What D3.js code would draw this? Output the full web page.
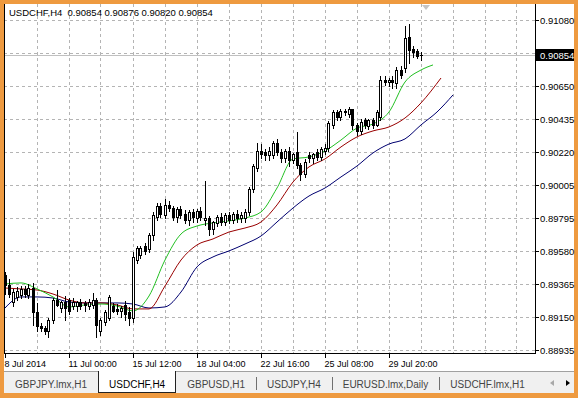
<!DOCTYPE html>
<html>
<head>
<meta charset="utf-8">
<script src="https://cdn.jsdelivr.net/npm/d3@7"></script>
<style>
body { margin: 0; background: #fff; }
svg { display: block; }
text { font-family: "Liberation Sans", Arial, sans-serif; }
</style>
</head>
<body>
<svg id="chart" width="578" height="398"></svg>
<script>
"use strict";

var symbol = "USDCHF,H4";
var lastPrice = 0.90854;

// H4 bars, oldest first
var opens = [0.89420,0.89360,0.89250,0.89280,0.89290,0.89330,0.89290,0.89340,0.89180,0.89090,
  0.89075,0.89060,0.89130,0.89260,0.89210,0.89250,0.89260,0.89220,0.89220,0.89250,
  0.89240,0.89220,0.89230,0.89260,0.89060,0.89120,0.89140,0.89220,0.89200,0.89190,
  0.89230,0.89180,0.89140,0.89520,0.89550,0.89610,0.89590,0.89680,0.89800,0.89870,
  0.89810,0.89880,0.89860,0.89800,0.89850,0.89820,0.89780,0.89830,0.89790,0.89840,
  0.89780,0.89790,0.89720,0.89760,0.89800,0.89770,0.89810,0.89780,0.89820,0.89790,
  0.89790,0.89830,0.89980,0.90120,0.90230,0.90220,0.90200,0.90200,0.90280,0.90220,
  0.90180,0.90230,0.90170,0.90220,0.90140,0.90080,0.90200,0.90180,0.90220,0.90190,
  0.90230,0.90250,0.90400,0.90480,0.90450,0.90490,0.90470,0.90500,0.90400,0.90360,
  0.90430,0.90390,0.90430,0.90400,0.90450,0.90690,0.90680,0.90690,0.90670,0.90755,
  0.90768,0.90970,0.90890,0.90880,0.90854];
var highs = [0.89450,0.89400,0.89340,0.89350,0.89360,0.89360,0.89370,0.89380,0.89250,0.89120,
  0.89100,0.89150,0.89280,0.89330,0.89260,0.89290,0.89280,0.89280,0.89260,0.89270,
  0.89260,0.89270,0.89310,0.89280,0.89150,0.89200,0.89300,0.89250,0.89240,0.89230,
  0.89260,0.89220,0.89580,0.89620,0.89620,0.89640,0.89700,0.89840,0.89900,0.89900,
  0.89920,0.89910,0.89880,0.89870,0.89880,0.89850,0.89850,0.89860,0.89860,0.89870,
  0.90040,0.89810,0.89780,0.89820,0.89830,0.89830,0.89840,0.89840,0.89850,0.89840,
  0.89860,0.90000,0.90150,0.90290,0.90280,0.90250,0.90260,0.90300,0.90310,0.90250,
  0.90250,0.90260,0.90220,0.90360,0.90160,0.90180,0.90230,0.90220,0.90250,0.90260,
  0.90280,0.90430,0.90500,0.90500,0.90510,0.90510,0.90520,0.90510,0.90420,0.90440,
  0.90450,0.90440,0.90450,0.90500,0.90720,0.90720,0.90710,0.90720,0.90780,0.90790,
  0.91047,0.91060,0.90920,0.90900,0.90876];
var lows = [0.89300,0.89280,0.89220,0.89260,0.89270,0.89280,0.89270,0.89100,0.89060,0.89060,
  0.89040,0.89020,0.89110,0.89220,0.89180,0.89130,0.89170,0.89200,0.89190,0.89200,
  0.89190,0.89200,0.89210,0.89020,0.89030,0.89100,0.89130,0.89180,0.89170,0.89150,
  0.89130,0.89100,0.89120,0.89500,0.89530,0.89560,0.89570,0.89650,0.89780,0.89800,
  0.89790,0.89840,0.89780,0.89770,0.89790,0.89760,0.89750,0.89770,0.89770,0.89780,
  0.89750,0.89680,0.89690,0.89740,0.89750,0.89750,0.89760,0.89760,0.89770,0.89770,
  0.89770,0.89810,0.89960,0.90100,0.90180,0.90170,0.90170,0.90180,0.90200,0.90160,
  0.90160,0.90130,0.90150,0.90120,0.90040,0.90060,0.90160,0.90150,0.90170,0.90170,
  0.90210,0.90230,0.90380,0.90430,0.90430,0.90460,0.90450,0.90370,0.90330,0.90340,
  0.90380,0.90370,0.90380,0.90390,0.90430,0.90660,0.90650,0.90640,0.90640,0.90700,
  0.90740,0.90800,0.90840,0.90830,0.90820];
var closes = [0.89360,0.89300,0.89310,0.89320,0.89330,0.89300,0.89340,0.89180,0.89090,0.89075,
  0.89060,0.89130,0.89260,0.89230,0.89250,0.89210,0.89190,0.89250,0.89250,0.89220,
  0.89230,0.89250,0.89260,0.89100,0.89130,0.89180,0.89280,0.89190,0.89190,0.89210,
  0.89170,0.89140,0.89540,0.89600,0.89600,0.89580,0.89680,0.89810,0.89870,0.89820,
  0.89880,0.89860,0.89800,0.89850,0.89810,0.89780,0.89830,0.89800,0.89840,0.89800,
  0.89790,0.89720,0.89770,0.89800,0.89770,0.89810,0.89780,0.89820,0.89790,0.89810,
  0.89830,0.89980,0.90130,0.90230,0.90210,0.90200,0.90230,0.90280,0.90220,0.90180,
  0.90230,0.90170,0.90210,0.90140,0.90080,0.90160,0.90180,0.90210,0.90190,0.90240,
  0.90250,0.90410,0.90480,0.90450,0.90490,0.90480,0.90500,0.90400,0.90360,0.90420,
  0.90400,0.90430,0.90400,0.90480,0.90690,0.90680,0.90690,0.90680,0.90755,0.90720,
  0.90963,0.90885,0.90870,0.90845,0.90854];

// Alligator lines, read every 4th bar, plus the shifted end point
var lipsShift = 3, teethShift = 5, jawShift = 8;
var lips = [0.89364,0.89371,0.89332,0.89280,0.89215,0.89228,0.89234,0.89221,0.89189,0.89286,
  0.89520,0.89689,0.89741,0.89761,0.89774,0.89793,0.89832,0.89988,0.90177,0.90190,
  0.90229,0.90300,0.90378,0.90404,0.90482,0.90677,0.90755,0.90788];
var teeth = [0.89338,0.89332,0.89325,0.89299,0.89260,0.89241,0.89241,0.89228,0.89202,0.89202,
  0.89351,0.89520,0.89618,0.89657,0.89702,0.89728,0.89767,0.89878,0.90027,0.90125,
  0.90177,0.90255,0.90320,0.90359,0.90385,0.90443,0.90541,0.90703];
var jaw = [0.89208,0.89280,0.89280,0.89273,0.89247,0.89241,0.89241,0.89241,0.89234,0.89208,
  0.89215,0.89312,0.89475,0.89540,0.89579,0.89624,0.89676,0.89767,0.89858,0.89936,
  0.89988,0.90060,0.90131,0.90216,0.90274,0.90307,0.90398,0.90482,0.90593];

var priceTicks = [0.91080,0.90865,0.90650,0.90435,0.90220,0.90005,0.89795,0.89580,0.89365,0.89150,0.88935];
var dateLabels = ["8 Jul 2014","11 Jul 00:00","15 Jul 12:00","18 Jul 04:00","22 Jul 16:00","25 Jul 08:00","29 Jul 20:00"];
var dateLabelBars = [0,16,32,48,64,80,96];
var tabs = ["GBPJPY.lmx,H1","USDCHF,H4","GBPUSD,H1","USDJPY,H4","EURUSD.lmx,Daily","USDCHF.lmx,H1"];
var activeTab = 1;

var W = 578, H = 398;
var plot = { left: 4, top: 4, right: 535, bottom: 353 };

var svg = d3.select("#chart");

// orange window frame
svg.append("rect").attr("width", W).attr("height", H).attr("fill", "#ee9a40");
svg.append("rect").attr("x", 4).attr("y", 4).attr("width", W - 8).attr("height", 389).attr("fill", "#fff");

var x = d3.scaleLinear().domain([-0.25, 132.5]).range([plot.left, plot.right]);
var y = d3.scaleLinear().domain([0.88935, 0.91080]).range([350, 20]);

function px(i) { return Math.floor(x(i)) + 0.5; }
function py(v) { return Math.round(y(v)) + 0.5; }

svg.append("clipPath").attr("id", "plotClip")
    .append("rect")
    .attr("x", plot.left).attr("y", plot.top)
    .attr("width", plot.right - plot.left).attr("height", plot.bottom - plot.top);

var grid = svg.append("g").attr("stroke", "#b4b4b4").attr("stroke-dasharray", "3,3").attr("shape-rendering", "crispEdges");

grid.selectAll("line.h")
    .data(priceTicks)
    .enter().append("line")
    .attr("class", "h")
    .attr("x1", plot.left).attr("x2", plot.right)
    .attr("y1", function(d) { return py(d); })
    .attr("y2", function(d) { return py(d); });

grid.selectAll("line.v")
    .data(d3.range(8, 132, 8))
    .enter().append("line")
    .attr("class", "v")
    .attr("y1", plot.top).attr("y2", plot.bottom)
    .attr("x1", function(d) { return px(d); })
    .attr("x2", function(d) { return px(d); });

// current price line
svg.append("line")
    .attr("x1", plot.left).attr("x2", plot.right)
    .attr("y1", py(lastPrice)).attr("y2", py(lastPrice))
    .attr("stroke", "#c0c0c0");

// chart shift marker
var shiftX = x(opens.length + 0.25);
svg.append("path")
    .attr("d", "M" + (shiftX - 4) + "," + 5 + "L" + (shiftX + 4) + "," + 5 + "L" + shiftX + "," + 10 + "Z")
    .attr("fill", "#c4c4c4");

// alligator
var slots = d3.range(0, opens.length, 4);
var maLayer = svg.append("g").attr("clip-path", "url(#plotClip)").attr("fill", "none").attr("stroke-width", 1);
var line = d3.line()
    .x(function(d) { return x(d.i); })
    .y(function(d) { return y(d.v); })
    .curve(d3.curveMonotoneX);

function pts(values, bars) {
    return values.map(function(v, k) { return { i: bars[k], v: v }; });
}
var last = opens.length - 1;
maLayer.append("path")
    .attr("d", line(pts(jaw, slots.concat([108, last + jawShift]))))
    .attr("stroke", "#000070");
maLayer.append("path")
    .attr("d", line(pts(teeth, slots.concat([last + teethShift]))))
    .attr("stroke", "#990000");
maLayer.append("path")
    .attr("d", line(pts(lips, slots.concat([last + lipsShift]))))
    .attr("stroke", "#22c022");

// candles
var bars = opens.map(function(o, i) {
    return { i: i, o: o, h: highs[i], l: lows[i], c: closes[i] };
});
var candle = svg.append("g").attr("clip-path", "url(#plotClip)").attr("shape-rendering", "crispEdges")
    .selectAll("g").data(bars).enter().append("g");

candle.append("line")
    .attr("x1", function(d) { return px(d.i); })
    .attr("x2", function(d) { return px(d.i); })
    .attr("y1", function(d) { return py(d.h); })
    .attr("y2", function(d) { return py(d.l); })
    .attr("stroke", "#000");

candle.each(function(d) {
    var g = d3.select(this);
    var top = Math.round(y(Math.max(d.o, d.c)));
    var bot = Math.round(y(Math.min(d.o, d.c)));
    var cx = px(d.i);
    if (bot - top < 1) {
        g.append("line")
            .attr("x1", cx - 1.5).attr("x2", cx + 1.5)
            .attr("y1", top + 0.5).attr("y2", top + 0.5)
            .attr("stroke", "#000");
    } else {
        g.append("rect")
            .attr("x", cx - 1).attr("y", top + 0.5)
            .attr("width", 2).attr("height", bot - top)
            .attr("fill", d.c >= d.o ? "#fff" : "#000")
            .attr("stroke", "#000");
    }
});

// axes frame
var axes = svg.append("g").attr("stroke", "#000").attr("shape-rendering", "crispEdges");
axes.append("line").attr("x1", plot.right + 0.5).attr("x2", plot.right + 0.5).attr("y1", plot.top).attr("y2", plot.bottom + 1);
axes.append("line").attr("x1", plot.left + 0.5).attr("x2", plot.left + 0.5).attr("y1", plot.top).attr("y2", plot.bottom + 1);
axes.append("line").attr("x1", plot.left).attr("x2", plot.right + 1).attr("y1", plot.bottom + 0.5).attr("y2", plot.bottom + 0.5);

// price scale
var priceAxis = svg.append("g");
priceTicks.forEach(function(p) {
    if (Math.abs(p - lastPrice) < 0.0005) return;
    priceAxis.append("line")
        .attr("x1", plot.right).attr("x2", plot.right + 4)
        .attr("y1", py(p)).attr("y2", py(p))
        .attr("stroke", "#000").attr("shape-rendering", "crispEdges");
    priceAxis.append("text")
        .attr("x", plot.right + 5).attr("y", py(p) + 3.5)
        .attr("font-size", "9.5px").attr("fill", "#000")
        .text(p.toFixed(5));
});
priceAxis.append("rect")
    .attr("x", plot.right + 1).attr("y", py(lastPrice) - 6.5)
    .attr("width", 38).attr("height", 12)
    .attr("fill", "#000");
priceAxis.append("text")
    .attr("x", plot.right + 5).attr("y", py(lastPrice) + 3.5)
    .attr("font-size", "9.5px").attr("fill", "#fff")
    .text(lastPrice.toFixed(5));

// time scale
var timeAxis = svg.append("g");
dateLabelBars.forEach(function(b, k) {
    timeAxis.append("line")
        .attr("x1", px(b)).attr("x2", px(b))
        .attr("y1", plot.bottom).attr("y2", plot.bottom + 5)
        .attr("stroke", "#000").attr("shape-rendering", "crispEdges");
    timeAxis.append("text")
        .attr("x", px(b) - 1).attr("y", 367)
        .attr("font-size", "9px").attr("fill", "#000")
        .text(dateLabels[k]);
});

// title
svg.append("text")
    .attr("x", 9).attr("y", 16)
    .attr("font-size", "9.5px").attr("fill", "#000")
    .attr("xml:space", "preserve")
    .text(symbol + "  " + [opens[last], highs[last], lows[last], closes[last]].map(function(v) { return v.toFixed(5); }).join(" "));

// tab bar
var tabBar = svg.append("g");
tabBar.append("rect").attr("x", 4).attr("y", 371).attr("width", W - 8).attr("height", 22).attr("fill", "#f0f0f0");
tabBar.append("line").attr("x1", 4).attr("x2", W - 4).attr("y1", 371.5).attr("y2", 371.5)
    .attr("stroke", "#a0a0a0").attr("shape-rendering", "crispEdges");

var tabX = 4;
tabs.forEach(function(name, k) {
    var t = tabBar.append("text")
        .attr("y", 388).attr("font-size", "10px")
        .attr("fill", k === activeTab ? "#000" : "#444")
        .text(name);
    var w = t.node().getComputedTextLength();
    var start = tabX, end = tabX + w + 22;
    if (k === activeTab) {
        tabBar.insert("path", "text")
            .attr("d", "M" + (start + 0.5) + ",371V392.5H" + (end - 0.5) + "V371")
            .attr("fill", "#fff").attr("stroke", "#222").attr("shape-rendering", "crispEdges");
    } else if (k > activeTab && k < tabs.length - 1) {
        tabBar.append("line")
            .attr("x1", Math.round(end) + 0.5).attr("x2", Math.round(end) + 0.5)
            .attr("y1", 377).attr("y2", 390)
            .attr("stroke", "#707070").attr("shape-rendering", "crispEdges");
    }
    t.attr("x", start + 11);
    tabX = end;
});

// scroll arrows
tabBar.append("path").attr("d", "M550,383L554,380L554,386Z").attr("fill", "#a8a8a8");
tabBar.append("path").attr("d", "M570,383L566,380L566,386Z").attr("fill", "#000");
</script>
</body>
</html>
